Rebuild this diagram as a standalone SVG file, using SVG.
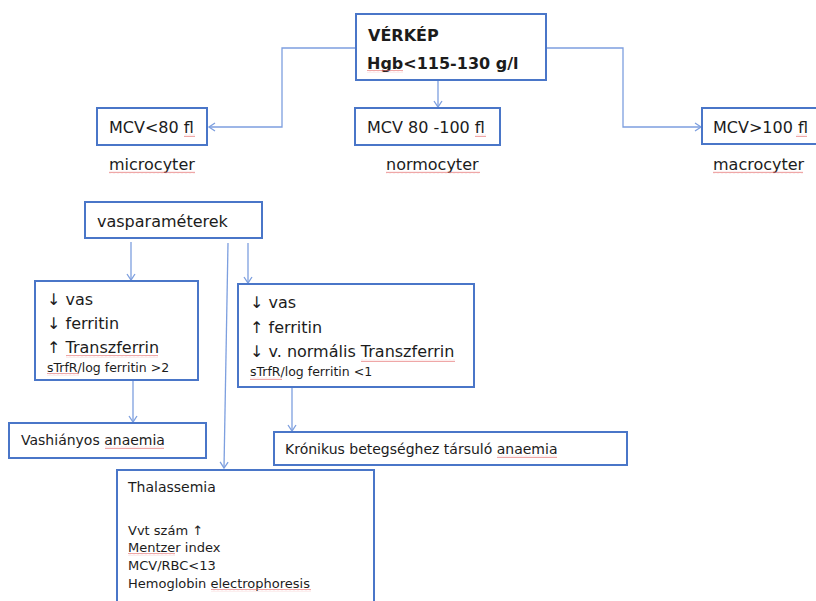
<svg xmlns="http://www.w3.org/2000/svg" width="816" height="601" viewBox="0 0 816 601">
<style>
.box{fill:#fff;stroke:#4a76c8;stroke-width:2}
.con{fill:none;stroke:#7d9fdf;stroke-width:1.3}
text{font-family:"DejaVu Sans","Liberation Sans",sans-serif;fill:#1c1c1c}
.b{font-weight:bold;font-size:16px}
.m{font-size:16px}
.s{font-size:14px}
.xs{font-size:12.5px}
.t{font-size:13px}
.sq{fill:url(#sq)}
</style>
<defs>
<marker id="ah" markerWidth="10" markerHeight="10" refX="7" refY="5" orient="auto" markerUnits="userSpaceOnUse">
<path d="M1,1 L7,5 L1,9" fill="none" stroke="#7d9fdf" stroke-width="1.3"/>
</marker>
<pattern id="sq" width="4" height="3" patternUnits="userSpaceOnUse">
<path d="M0,2.2 L1,0.8 L2,2.2 L3,0.8 L4,2.2" fill="none" stroke="#e46a6a" stroke-width="0.6"/>
</pattern>
</defs>
<rect width="816" height="601" fill="#fff"/>
<g id="connectors">
<path class="con" d="M356,48 H282 V127 H209" marker-end="url(#ah)"/>
<path class="con" d="M546,48 H623 V127 H701" marker-end="url(#ah)"/>
<path class="con" d="M438,80 V107" marker-end="url(#ah)"/>
<path class="con" d="M131,242 V280" marker-end="url(#ah)"/>
<path class="con" d="M228,243 L224,468" marker-end="url(#ah)"/>
<path class="con" d="M248,243 V283" marker-end="url(#ah)"/>
<path class="con" d="M133,381 V422" marker-end="url(#ah)"/>
<path class="con" d="M292,388 V431" marker-end="url(#ah)"/>
</g>
<g id="verkep">
<rect class="box" x="356" y="14" width="190" height="66"/>
<text class="b" x="368" y="41">VÉRKÉP</text>
<text class="b" x="367" y="69">Hgb&lt;115-130 g/l</text>
<rect class="sq" x="367" y="70" width="36" height="3"/>
</g>
<g id="mcv-micro">
<rect class="box" x="97" y="108" width="110" height="37"/>
<text class="m" x="109" y="133">MCV&lt;80 fl</text>
<rect class="sq" x="184" y="134" width="11" height="3"/>
</g>
<g id="mcv-normo">
<rect class="box" x="355" y="108" width="145" height="37"/>
<text class="m" x="367" y="133">MCV 80 -100 fl</text>
<rect class="sq" x="475" y="134" width="11" height="3"/>
</g>
<g id="mcv-macro">
<rect class="box" x="702" y="108" width="130" height="36"/>
<text class="m" x="713" y="133">MCV&gt;100 fl</text>
<rect class="sq" x="796" y="134" width="11" height="3"/>
</g>
<g id="label-micro">
<text class="m" x="109" y="170">microcyter</text>
<rect class="sq" x="109" y="171" width="86" height="3"/>
</g>
<g id="label-normo">
<text class="m" x="386" y="170">normocyter</text>
<rect class="sq" x="386" y="171" width="94" height="3"/>
</g>
<g id="label-macro">
<text class="m" x="713" y="170">macrocyter</text>
<rect class="sq" x="713" y="171" width="90" height="3"/>
</g>
<g id="vasparameterek">
<rect class="box" x="85" y="202" width="177" height="36"/>
<text class="m" x="97" y="227">vasparaméterek</text>
</g>
<g id="vashiany-params">
<rect class="box" x="35" y="281" width="163" height="99"/>
<text class="m" x="47" y="305">↓ vas</text>
<text class="m" x="47" y="329">↓ ferritin</text>
<text class="m" x="47" y="353">↑ Transzferrin</text>
<rect class="sq" x="66" y="355" width="92" height="3"/>
<text class="xs" x="47" y="372">sTrfR/log ferritin &gt;2</text>
<rect class="sq" x="47" y="373" width="32" height="3"/>
</g>
<g id="kronikus-params">
<rect class="box" x="238" y="284" width="236" height="103"/>
<text class="m" x="250" y="308">↓ vas</text>
<text class="m" x="250" y="333">↑ ferritin</text>
<text class="m" x="250" y="357">↓ v. normális Transzferrin</text>
<rect class="sq" x="361" y="359" width="94" height="3"/>
<text class="xs" x="250" y="376">sTrfR/log ferritin &lt;1</text>
<rect class="sq" x="250" y="377" width="32" height="3"/>
</g>
<g id="vashianyos">
<rect class="box" x="9" y="423" width="197" height="35"/>
<text class="s" x="21" y="445">Vashiányos anaemia</text>
<rect class="sq" x="105" y="446" width="59" height="3"/>
</g>
<g id="kronikus">
<rect class="box" x="274" y="432" width="353" height="33"/>
<text class="s" x="285" y="454">Krónikus betegséghez társuló anaemia</text>
<rect class="sq" x="497" y="455" width="60" height="3"/>
</g>
<g id="thalassemia">
<rect class="box" x="117" y="470" width="257" height="150"/>
<text class="s" x="128" y="492">Thalassemia</text>
<text class="t" x="128" y="535">Vvt szám ↑</text>
<text class="t" x="128" y="552">Mentzer index</text>
<rect class="sq" x="128" y="553" width="47" height="3"/>
<text class="t" x="128" y="570">MCV/RBC&lt;13</text>
<text class="t" x="128" y="588">Hemoglobin electrophoresis</text>
<rect class="sq" x="211" y="589" width="100" height="3"/>
</g>
</svg>
